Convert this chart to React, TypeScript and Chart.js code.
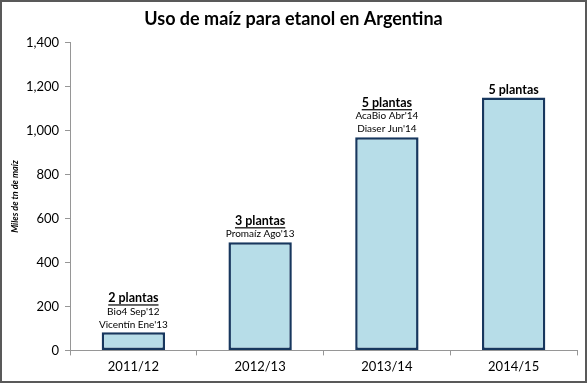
import React, { useEffect, useRef } from "react";
import { Chart, registerables } from "chart.js";

Chart.register(...registerables);

const categories = ["2011/12", "2012/13", "2013/14", "2014/15"];
const values = [82, 492, 970, 1150];
const headers = ["2 plantas", "3 plantas", "5 plantas", "5 plantas"];
const headerUnderline = [true, true, true, false];
const notes: string[][] = [
  ["Bio4 Sep'12", "Vicentín Ene'13"],
  ["Promaíz Ago'13"],
  ["AcaBio Abr'14", "Diaser Jun'14"],
  [],
];
const yTicks = [0, 200, 400, 600, 800, 1000, 1200, 1400];

const FONT = "Lato, 'Open Sans', sans-serif";

const annotationPlugin = {
  id: "barNotes",
  afterDatasetsDraw(chart: any) {
    const ctx = chart.ctx;
    const meta = chart.getDatasetMeta(0);
    ctx.save();
    ctx.textAlign = "center";
    ctx.textBaseline = "middle";
    ctx.fillStyle = "#000";
    meta.data.forEach((bar: any, i: number) => {
      const x = bar.x;
      let y = bar.y - 8;
      const lines = notes[i];
      ctx.font = `10px ${FONT}`;
      for (let j = lines.length - 1; j >= 0; j--) {
        ctx.fillText(lines[j], x, y);
        y -= 13;
      }
      ctx.font = `bold 12.5px ${FONT}`;
      ctx.fillText(headers[i], x, y);
      if (headerUnderline[i]) {
        const w = ctx.measureText(headers[i]).width;
        ctx.fillRect(x - w / 2, y + 6, w, 1.2);
      }
    });
    ctx.restore();
  },
};

const borderPlugin = {
  id: "outerBorder",
  afterDraw(chart: any) {
    const ctx = chart.ctx;
    ctx.save();
    ctx.strokeStyle = "#595959";
    ctx.lineWidth = 2;
    ctx.strokeRect(1, 1, chart.width - 2, chart.height - 2);
    ctx.restore();
  },
};

export default function App() {
  const ref = useRef<HTMLCanvasElement>(null);
  useEffect(() => {
    document.body.style.margin = "0";
    const chart = new Chart(ref.current!, {
      type: "bar",
      data: {
        labels: categories,
        datasets: [
          {
            data: values,
            backgroundColor: "#b7dde8",
            borderColor: "#17375e",
            borderWidth: 2.5,
            borderSkipped: false,
            categoryPercentage: 1,
            barPercentage: 0.5,
          },
        ],
      },
      options: {
        animation: false,
        responsive: false,
        layout: { padding: { left: 10, right: 10, top: 8, bottom: 4 } },
        plugins: {
          legend: { display: false },
          tooltip: { enabled: false },
          title: {
            display: true,
            text: "Uso de maíz para etanol en Argentina",
            color: "#000",
            font: { family: FONT, size: 18, weight: "bold" },
            padding: { top: 0, bottom: 13 },
          },
        },
        scales: {
          x: {
            grid: {
              offset: true,
              drawOnChartArea: false,
              drawTicks: true,
              tickLength: 5,
              color: "#969696",
            },
            border: { color: "#969696", width: 1 },
            ticks: {
              color: "#000",
              font: { family: FONT, size: 13 },
              padding: 4,
            },
          },
          y: {
            min: 0,
            max: 1400,
            afterBuildTicks: (s: any) => {
              s.ticks = yTicks.map((v) => ({ value: v }));
            },
            afterFit: (s: any) => {
              s.width = 60;
            },
            grid: {
              drawOnChartArea: false,
              tickLength: 5,
              color: "#969696",
            },
            border: { color: "#969696", width: 1 },
            ticks: {
              color: "#000",
              font: { family: FONT, size: 13 },
              padding: 6,
              callback: (v: any) => Number(v).toLocaleString("en-US"),
            },
            title: {
              display: true,
              text: "Miles de tn de maíz",
              color: "#000",
              font: { family: FONT, size: 9, style: "italic", weight: "bold" },
              padding: 0,
            },
          },
        },
      },
      plugins: [annotationPlugin, borderPlugin],
    });
    return () => chart.destroy();
  }, []);
  return (
    <div style={{ position: "absolute", left: 0, top: 0, width: 587, height: 383 }}>
      <canvas ref={ref} width={587} height={383} />
    </div>
  );
}
